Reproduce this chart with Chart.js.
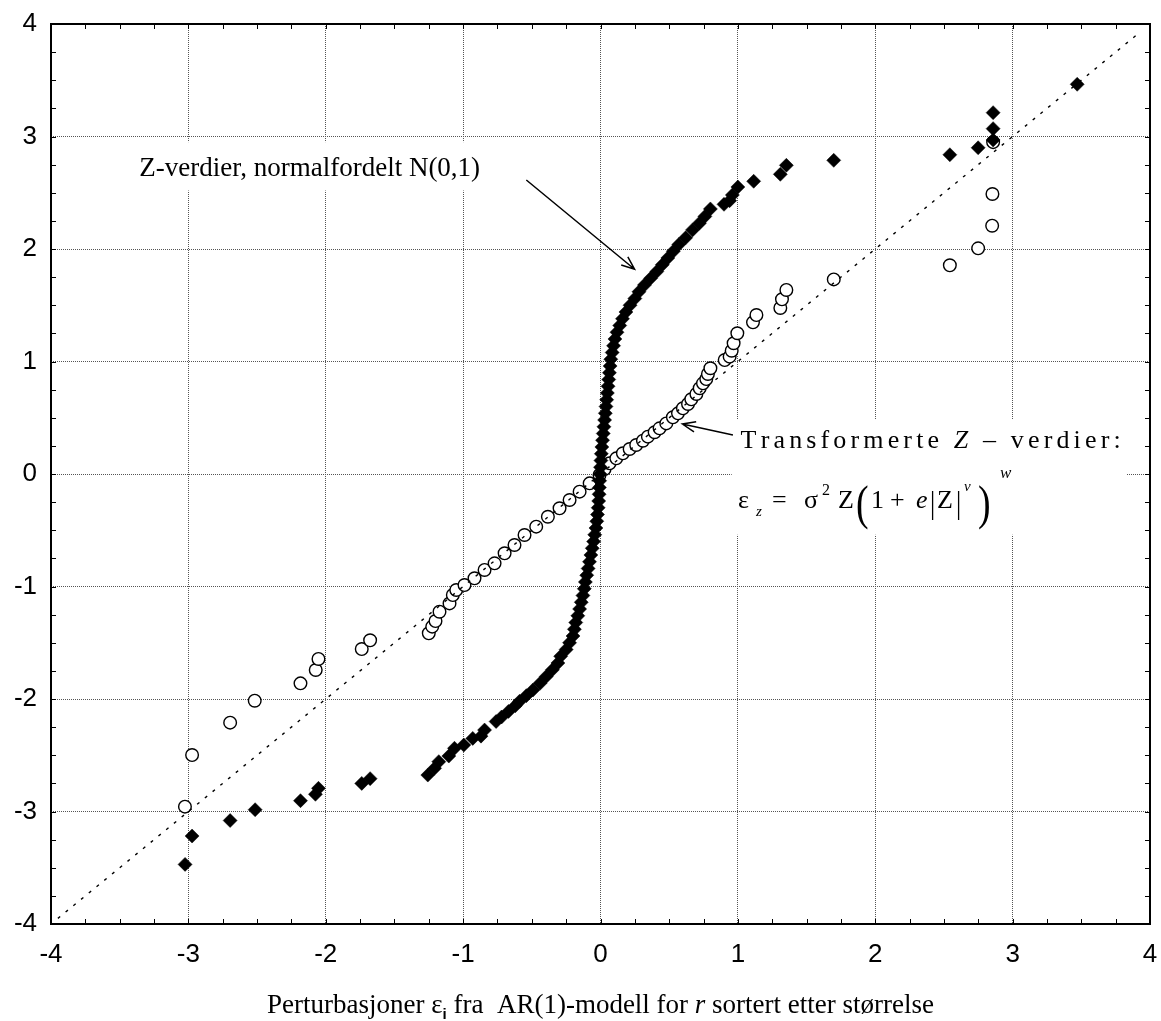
<!DOCTYPE html>
<html>
<head>
<meta charset="utf-8">
<script src="https://cdn.jsdelivr.net/npm/chart.js@4.4.1/dist/chart.umd.min.js"></script>
<style>
  html, body { margin: 0; padding: 0; background: #fff; }
</style>
</head>
<body>
<canvas id="qqChart" width="1161" height="1021"></canvas>
<script>
// Axis ticks (both axes)
const axisTicks = [-4, -3, -2, -1, 0, 1, 2, 3, 4];

// Z-verdier, normalfordelt N(0,1)  (filled diamonds)
const zX = [-3.024, -2.973, -2.696, -2.514, -2.184, -2.075, -2.053, -1.738, -1.677,
    -1.257, -1.208, -1.177, -1.104, -1.063, -0.995, -0.93, -0.87, -0.844, -0.76,
    -0.72, -0.67, -0.62, -0.589, -0.54, -0.492, -0.44, -0.395, -0.35, -0.31,
    -0.29, -0.25, -0.225, -0.20, -0.19, -0.18, -0.165, -0.152, -0.14, -0.128,
    -0.118, -0.11, -0.10, -0.09, -0.08, -0.07, -0.06, -0.05, -0.042, -0.033,
    -0.027, -0.022, -0.017, -0.013, -0.01, -0.008, -0.006, -0.004, 0.0, 0.003,
    0.006, 0.01, 0.015, 0.02, 0.025, 0.03, 0.035, 0.04, 0.045, 0.05, 0.055,
    0.06, 0.065, 0.07, 0.075, 0.085, 0.095, 0.105, 0.12, 0.14, 0.16, 0.185,
    0.215, 0.25, 0.28, 0.32, 0.365, 0.41, 0.45, 0.49, 0.53, 0.57, 0.62, 0.67,
    0.72, 0.76, 0.80, 0.899, 0.94, 0.96, 1.0, 1.115, 1.309, 1.353, 1.698,
    2.543, 2.749, 2.858, 2.858, 2.858, 3.47];
const zY = [-3.47, -3.218, -3.08, -2.984, -2.904, -2.847, -2.794, -2.75, -2.708,
    -2.676, -2.616, -2.557, -2.507, -2.438, -2.409, -2.35, -2.33, -2.276, -2.20,
    -2.16, -2.11, -2.06, -2.02, -1.97, -1.92, -1.86, -1.80, -1.74, -1.68,
    -1.62, -1.56, -1.50, -1.44, -1.38, -1.32, -1.26, -1.20, -1.14, -1.08,
    -1.02, -0.96, -0.90, -0.84, -0.78, -0.72, -0.66, -0.60, -0.54, -0.48,
    -0.42, -0.36, -0.30, -0.24, -0.18, -0.12, -0.06, 0.0, 0.06, 0.12,
    0.18, 0.24, 0.30, 0.36, 0.42, 0.48, 0.54, 0.60, 0.66, 0.72, 0.78,
    0.84, 0.90, 0.96, 1.02, 1.08, 1.14, 1.20, 1.26, 1.32, 1.38, 1.44,
    1.50, 1.56, 1.62, 1.68, 1.74, 1.80, 1.86, 1.92, 1.98, 2.04, 2.10, 2.17,
    2.23, 2.29, 2.356, 2.397, 2.43, 2.48, 2.551, 2.602, 2.664, 2.744, 2.788,
    2.838, 2.9, 2.969, 3.07, 3.212, 3.464];

// Transformerte Z-verdier (open circles)
const tX = [-3.025, -2.973, -2.696, -2.517, -2.184, -2.073, -2.053, -1.738, -1.677,
    -1.25, -1.225, -1.201, -1.172, -1.099, -1.075, -1.05, -0.99, -0.917, -0.844,
    -0.771, -0.698, -0.626, -0.553, -0.468, -0.383, -0.298, -0.225, -0.152,
    -0.079, -0.007, 0.03, 0.066, 0.115, 0.163, 0.212, 0.26, 0.309, 0.345, 0.394,
    0.43, 0.479, 0.527, 0.564, 0.6, 0.637, 0.661, 0.698, 0.722, 0.746, 0.77,
    0.782, 0.8, 0.904, 0.94, 0.955, 0.969, 0.996, 1.11, 1.135, 1.309, 1.321,
    1.353, 1.698, 2.543, 2.749, 2.851, 2.853, 2.858];
const tY = [-2.957, -2.498, -2.21, -2.015, -1.861, -1.742, -1.644, -1.556, -1.478,
    -1.416, -1.357, -1.307, -1.224, -1.15, -1.076, -1.031, -0.987, -0.927, -0.853,
    -0.794, -0.705, -0.631, -0.542, -0.468, -0.38, -0.305, -0.231, -0.157,
    -0.083, -0.009, 0.045, 0.095, 0.139, 0.184, 0.222, 0.258, 0.296, 0.332, 0.371,
    0.406, 0.45, 0.504, 0.539, 0.584, 0.622, 0.664, 0.711, 0.762, 0.806, 0.844,
    0.889, 0.94, 1.013, 1.043, 1.096, 1.162, 1.251, 1.348, 1.413, 1.476, 1.553,
    1.636, 1.73, 1.855, 2.006, 2.207, 2.489, 2.95];

// Reference line y = x
const refX = [-3.95, 3.93];
const refY = [-3.95, 3.93];

const SERIF = '"Liberation Serif", "Times New Roman", serif';
const SANS = '"Liberation Sans", Arial, sans-serif';

const toPoints = (xs, ys) => xs.map((v, i) => ({ x: v, y: ys[i] }));

// draw a list of text runs one after another (optionally spaced out)
function drawRuns(ctx, runs, x, y, spacing) {
    spacing = spacing || 0;
    let cx = x;
    runs.forEach(r => {
        ctx.font = r.font;
        if (r.at !== undefined) cx = x + r.at;
        const ty = y + (r.dy || 0);
        if (r.sy) {
            // tall glyph (big brackets)
            ctx.save();
            ctx.translate(cx, ty);
            ctx.scale(r.sx || 1, r.sy);
            ctx.fillText(r.t, 0, 0);
            ctx.restore();
            cx += ctx.measureText(r.t).width * (r.sx || 1);
        } else if (spacing) {
            for (const ch of r.t) {
                ctx.fillText(ch, cx, ty);
                cx += ctx.measureText(ch).width + spacing;
            }
        } else {
            ctx.fillText(r.t, cx, ty);
            cx += ctx.measureText(r.t).width;
        }
    });
}

function runsWidth(ctx, runs) {
    let w = 0, n = 0;
    runs.forEach(r => {
        ctx.font = r.font;
        w += ctx.measureText(r.t).width;
        n += [...r.t].length;
    });
    return { w: w, n: n };
}

function drawArrow(ctx, x1, y1, x2, y2) {
    const a = Math.atan2(y2 - y1, x2 - x1);
    const len = 14, spread = 0.38;
    ctx.beginPath();
    ctx.moveTo(x1, y1);
    ctx.lineTo(x2, y2);
    ctx.moveTo(x2 - len * Math.cos(a - spread), y2 - len * Math.sin(a - spread));
    ctx.lineTo(x2, y2);
    ctx.lineTo(x2 - len * Math.cos(a + spread), y2 - len * Math.sin(a + spread));
    ctx.stroke();
}

const annotations = {
    id: 'annotations',
    beforeDatasetsDraw(chart) {
        const { ctx } = chart;
        const sx = chart.scales.x, sy = chart.scales.y;
        const px = v => sx.getPixelForValue(v);
        const py = v => sy.getPixelForValue(v);

        ctx.save();
        // white backgrounds behind the two labels
        ctx.fillStyle = '#fff';
        ctx.fillRect(px(-3.39), py(2.95), px(-0.48) - px(-3.39), py(2.52) - py(2.95));
        ctx.fillRect(px(0.955), py(0.48), px(3.83) - px(0.955), py(-0.54) - py(0.48));

        ctx.fillStyle = '#000';
        ctx.textAlign = 'left';
        ctx.textBaseline = 'alphabetic';
        ctx.font = '27px ' + SERIF;
        ctx.fillText('Z-verdier, normalfordelt N(0,1)', px(-3.357), py(2.649));

        // Transformerte Z - verdier:  (spaced out)
        const label2 = [
            { t: 'Transformerte ', font: '26px ' + SERIF },
            { t: 'Z', font: 'italic 26px ' + SERIF },
            { t: ' \u2013 verdier:', font: '26px ' + SERIF }
        ];
        const m = runsWidth(ctx, label2);
        const target = px(3.78) - px(1.02);
        drawRuns(ctx, label2, px(1.02), py(0.231), (target - m.w) / (m.n - 1));

        // formula
        const f = [
            { t: '\u03b5', font: '26px ' + SERIF, at: 0 },
            { t: 'z', font: 'italic 15px ' + SERIF, at: 18, dy: 8 },
            { t: '=', font: '26px ' + SERIF, at: 34 },
            { t: '\u03c3', font: '26px ' + SERIF, at: 66 },
            { t: '2', font: '16px ' + SERIF, at: 84, dy: -13 },
            { t: 'Z', font: '26px ' + SERIF, at: 100 },
            { t: '(', font: '27px ' + SERIF, at: 118, dy: 11, sy: 1.8, sx: 1.4 },
            { t: '1', font: '26px ' + SERIF, at: 133 },
            { t: '+', font: '26px ' + SERIF, at: 152 },
            { t: 'e', font: 'italic 26px ' + SERIF, at: 178 },
            { t: '|', font: '26px ' + SERIF, at: 192, dy: 5, sy: 1.25 },
            { t: 'Z', font: '26px ' + SERIF, at: 199 },
            { t: '|', font: '26px ' + SERIF, at: 218, dy: 5, sy: 1.25 },
            { t: 'v', font: 'italic 15px ' + SERIF, at: 226, dy: -17 },
            { t: ')', font: '27px ' + SERIF, at: 240, dy: 11, sy: 1.8, sx: 1.4 },
            { t: 'w', font: 'italic 17px ' + SERIF, at: 262, dy: -30 }
        ];
        drawRuns(ctx, f, px(1.0), py(-0.302));

        // x axis title
        const title = [
            { t: 'Perturbasjoner ', font: '27px ' + SERIF },
            { t: '\u03b5', font: '27px ' + SERIF },
            { t: 'i', font: 'bold 15px ' + SANS, dy: 6 },
            { t: ' fra  AR(1)-modell for ', font: '27px ' + SERIF },
            { t: 'r', font: 'italic 27px ' + SERIF },
            { t: ' sortert etter st\u00f8rrelse', font: '27px ' + SERIF }
        ];
        const tw = runsWidth(ctx, title).w;
        const cx = (chart.chartArea.left + chart.chartArea.right) / 2;
        drawRuns(ctx, title, cx - tw / 2, 1013);
        ctx.restore();
    },
    afterDatasetsDraw(chart) {
        const { ctx, chartArea: a } = chart;
        const sx = chart.scales.x, sy = chart.scales.y;
        const px = v => sx.getPixelForValue(v);
        const py = v => sy.getPixelForValue(v);

        ctx.save();
        ctx.strokeStyle = '#000';
        ctx.lineWidth = 1.5;
        drawArrow(ctx, px(-0.54), py(2.613), px(0.248), py(1.82));
        drawArrow(ctx, px(0.964), py(0.347), px(0.596), py(0.444));

        // frame with inward ticks every 0.25
        ctx.lineWidth = 1;
        ctx.beginPath();
        for (let i = -15; i <= 15; i++) {
            const xv = Math.round(px(i / 4)) + 0.5;
            const yv = Math.round(py(i / 4)) + 0.5;
            ctx.moveTo(xv, a.bottom); ctx.lineTo(xv, a.bottom - 5);
            ctx.moveTo(xv, a.top); ctx.lineTo(xv, a.top + 5);
            ctx.moveTo(a.left, yv); ctx.lineTo(a.left + 5, yv);
            ctx.moveTo(a.right, yv); ctx.lineTo(a.right - 5, yv);
        }
        ctx.stroke();
        ctx.lineWidth = 2;
        ctx.strokeRect(a.left, a.top, a.right - a.left, a.bottom - a.top);
        ctx.restore();
    }
};

const tickFont = { family: SANS, size: 26 };

const qqChart = new Chart(document.getElementById('qqChart').getContext('2d'), {
    type: 'scatter',
    data: {
        datasets: [
            {
                label: 'y = x',
                data: toPoints(refX, refY),
                showLine: true,
                borderColor: '#000',
                borderWidth: 1.4,
                borderDash: [3, 7],
                pointRadius: 0,
                fill: false,
                order: 0
            },
            {
                label: 'Z-verdier, normalfordelt N(0,1)',
                data: toPoints(zX, zY),
                pointStyle: 'rectRot',
                pointRadius: 7,
                backgroundColor: '#000',
                borderColor: '#000',
                borderWidth: 0.5,
                order: 1
            },
            {
                label: 'Transformerte Z-verdier',
                data: toPoints(tX, tY),
                pointStyle: 'circle',
                pointRadius: 6.3,
                backgroundColor: '#fff',
                borderColor: '#000',
                borderWidth: 1.4,
                order: 2
            }
        ]
    },
    options: {
        responsive: false,
        animation: false,
        events: [],
        layout: { padding: { left: 0, right: 11, top: 24, bottom: 0 } },
        plugins: {
            legend: { display: false },
            tooltip: { enabled: false }
        },
        scales: {
            x: {
                type: 'linear',
                min: -4,
                max: 4,
                afterBuildTicks: s => { s.ticks = axisTicks.map(v => ({ value: v })); },
                afterFit: s => { s.height = 97; s.paddingLeft = 0; s.paddingRight = 0; },
                ticks: { color: '#000', font: tickFont, padding: 15, maxRotation: 0, autoSkip: false },
                grid: { color: '#555', lineWidth: 1, drawTicks: false },
                border: { display: false, dash: [1, 1] }
            },
            y: {
                type: 'linear',
                min: -4,
                max: 4,
                afterBuildTicks: s => { s.ticks = axisTicks.map(v => ({ value: v })); },
                afterFit: s => { s.width = 51; s.paddingTop = 0; s.paddingBottom = 0; },
                ticks: { color: '#000', font: tickFont, padding: 14, autoSkip: false },
                grid: { color: '#555', lineWidth: 1, drawTicks: false },
                border: { display: false, dash: [1, 1] }
            }
        }
    },
    plugins: [annotations]
});
</script>
</body>
</html>
